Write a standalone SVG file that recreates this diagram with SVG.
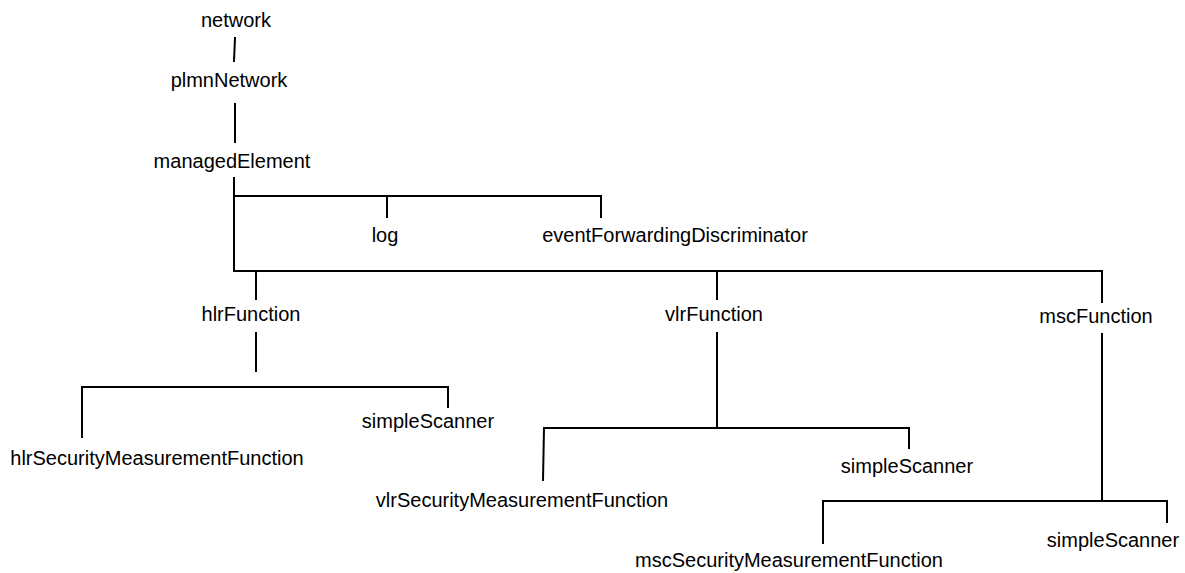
<svg xmlns="http://www.w3.org/2000/svg" width="1185" height="573" viewBox="0 0 1185 573">
<style>
.t{font-family:"Liberation Sans",Arial,sans-serif;font-size:20px;fill:#000;text-anchor:middle}
.c{fill:none;stroke:#000;stroke-width:2;stroke-linecap:square;stroke-linejoin:miter}
</style>
<rect width="1185" height="573" fill="#fff"/>
<g id="connectors" class="c">
<path d="M235,38 L234,61"/>
<path d="M235,104 L235,142"/>
<path d="M234,178 L234,271 L1102,271"/>
<path d="M387,217 L387,196 M234,196 L601,196 L601,217"/>
<path d="M256,271 L256,299"/>
<path d="M717,271 L717,299"/>
<path d="M1102,271 L1102,302"/>
<path d="M256,333 L256,371"/>
<path d="M82,437 L82,387 L448,387 L448,407"/>
<path d="M717,333 L717,428"/>
<path d="M543,480 L544,428 L909,428 L909,448"/>
<path d="M1102,334 L1102,501"/>
<path d="M823,543 L823,501 L1167,501 L1167,522"/>
</g>
<g id="network"><text class="t" x="236" y="27">network</text></g>
<g id="plmnNetwork"><text class="t" x="229" y="87">plmnNetwork</text></g>
<g id="managedElement"><text class="t" x="232" y="168">managedElement</text></g>
<g id="log"><text class="t" x="385" y="242">log</text></g>
<g id="eventForwardingDiscriminator"><text class="t" x="675" y="242">eventForwardingDiscriminator</text></g>
<g id="hlrFunction"><text class="t" x="251" y="321">hlrFunction</text></g>
<g id="vlrFunction"><text class="t" x="714" y="321">vlrFunction</text></g>
<g id="mscFunction"><text class="t" x="1096" y="323">mscFunction</text></g>
<g id="hlrSimpleScanner"><text class="t" x="428" y="428">simpleScanner</text></g>
<g id="hlrSecurityMeasurementFunction"><text class="t" x="157" y="465">hlrSecurityMeasurementFunction</text></g>
<g id="vlrSimpleScanner"><text class="t" x="907" y="473">simpleScanner</text></g>
<g id="vlrSecurityMeasurementFunction"><text class="t" x="522" y="507">vlrSecurityMeasurementFunction</text></g>
<g id="mscSimpleScanner"><text class="t" x="1113" y="547">simpleScanner</text></g>
<g id="mscSecurityMeasurementFunction"><text class="t" x="789" y="567">mscSecurityMeasurementFunction</text></g>
</svg>
